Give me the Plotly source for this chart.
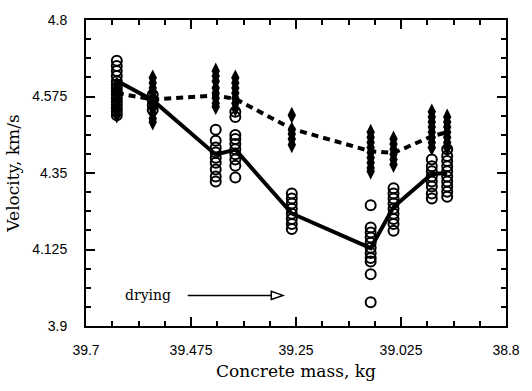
import plotly.graph_objects as go

# ---- data ----
masses = [39.634, 39.557, 39.422, 39.380, 39.259, 39.090, 39.041, 38.959, 38.926]

wet_circles = [
    [4.68, 4.665, 4.65, 4.635, 4.62, 4.61, 4.60, 4.59, 4.58, 4.57, 4.56, 4.55, 4.54, 4.53, 4.52],
    [4.58, 4.565, 4.55, 4.535],
    [4.477, 4.445, 4.425, 4.41, 4.395, 4.38, 4.36, 4.34, 4.325],
    [4.53, 4.515, 4.462, 4.45, 4.435, 4.42, 4.405, 4.39, 4.371, 4.337],
    [4.29, 4.275, 4.26, 4.245, 4.23, 4.215, 4.20, 4.185],
    [4.255, 4.19, 4.175, 4.16, 4.145, 4.13, 4.115, 4.10, 4.09, 4.052, 3.97],
    [4.305, 4.29, 4.275, 4.26, 4.245, 4.23, 4.215, 4.20, 4.18],
    [4.39, 4.37, 4.355, 4.34, 4.325, 4.31, 4.29, 4.275],
    [4.42, 4.40, 4.385, 4.37, 4.355, 4.34, 4.325, 4.31, 4.295, 4.28],
]

diamonds = [
    [4.61, 4.595, 4.58, 4.565, 4.55, 4.535, 4.52],
    [4.63, 4.615, 4.60, 4.585, 4.57, 4.555, 4.54, 4.525, 4.51, 4.50],
    [4.65, 4.635, 4.62, 4.60, 4.585, 4.57, 4.555, 4.545],
    [4.63, 4.615, 4.60, 4.585, 4.57, 4.555, 4.54],
    [4.52, 4.477, 4.465, 4.45, 4.433],
    [4.47, 4.455, 4.44, 4.425, 4.41, 4.395, 4.38, 4.365, 4.355],
    [4.45, 4.435, 4.42, 4.405, 4.39, 4.375],
    [4.53, 4.515, 4.50, 4.485, 4.47, 4.455, 4.44, 4.425],
    [4.515, 4.50, 4.485, 4.47, 4.455, 4.44, 4.425],
]

solid_mean = [4.621, 4.564, 4.404, 4.419, 4.231, 4.129, 4.250, 4.347, 4.350]
dashed_mean = [4.585, 4.566, 4.578, 4.568, 4.480, 4.414, 4.409, 4.458, 4.470]

x_ticks = [39.7, 39.475, 39.25, 39.025, 38.8]
x_tick_labels = ["39.7", "39.475", "39.25", "39.025", "38.8"]
x_minor = [39.64375, 39.5875, 39.53125, 39.41875, 39.3625, 39.30625,
           39.19375, 39.1375, 39.08125, 38.96875, 38.9125, 38.85625]
y_ticks = [3.9, 4.125, 4.35, 4.575, 4.8]
y_tick_labels = ["3.9", "4.125", "4.35", "4.575", "4.8"]
y_minor = [3.95625, 4.0125, 4.06875, 4.18125, 4.2375, 4.29375,
           4.40625, 4.4625, 4.51875, 4.63125, 4.6875, 4.74375]

# annotation geometry (drying arrow)
arrow_y = 3.990
arrow_x0, arrow_base, arrow_tip = 39.482, 39.303, 39.278
head_half = 0.012

# ---- figure ----
fig = go.Figure()

cx, cy = [], []
for m, vals in zip(masses, wet_circles):
    cx += [m] * len(vals)
    cy += vals
dx, dy = [], []
for m, vals in zip(masses, diamonds):
    dx += [m] * len(vals)
    dy += vals

fig.add_trace(go.Scatter(x=masses, y=solid_mean, mode="lines",
                         line=dict(color="black", width=4), showlegend=False))
fig.add_trace(go.Scatter(x=masses, y=dashed_mean, mode="lines",
                         line=dict(color="black", width=4, dash="7px,5px"), showlegend=False))
fig.add_trace(go.Scatter(x=cx, y=cy, mode="markers",
                         marker=dict(symbol="circle-open", size=10, color="black",
                                     line=dict(width=2, color="black")),
                         showlegend=False))
fig.add_trace(go.Scatter(x=dx, y=dy, mode="markers",
                         marker=dict(symbol="diamond-tall", size=12, color="black",
                                     line=dict(width=0)),
                         showlegend=False))

# drying arrow
fig.add_shape(type="line", x0=arrow_x0, x1=arrow_base, y0=arrow_y, y1=arrow_y,
              xref="x", yref="y", line=dict(color="black", width=1.5))
fig.add_shape(type="path",
              path=f"M {arrow_base} {arrow_y - head_half} L {arrow_tip} {arrow_y} "
                   f"L {arrow_base} {arrow_y + head_half} Z",
              xref="x", yref="y", fillcolor="white", line=dict(color="black", width=1.5))
fig.add_annotation(x=39.567, y=arrow_y, xref="x", yref="y", text="drying",
                   showarrow=False, font=dict(family="DejaVu Serif", size=14, color="black"))

axis_common = dict(
    showline=True, linecolor="black", linewidth=2, mirror="ticks",
    ticks="inside", ticklen=9, tickwidth=2, tickcolor="black",
    showgrid=False, zeroline=False,
    tickfont=dict(family="Liberation Sans", size=14, color="black"),
)

fig.update_xaxes(
    range=[39.7, 38.8], tickmode="array", tickvals=x_ticks, ticktext=x_tick_labels,
    minor=dict(tickmode="array", tickvals=x_minor, ticks="inside", ticklen=5,
               tickwidth=1.5, tickcolor="black", showgrid=False),
    ticklabelstandoff=10,
    title=dict(text="Concrete mass, kg",
               font=dict(family="DejaVu Serif", size=17, color="black"), standoff=8),
    **axis_common,
)
fig.update_yaxes(
    range=[3.9, 4.8], tickmode="array", tickvals=y_ticks, ticktext=y_tick_labels,
    minor=dict(tickmode="array", tickvals=y_minor, ticks="inside", ticklen=5,
               tickwidth=1.5, tickcolor="black", showgrid=False),
    ticklabelstandoff=14,
    title=dict(text="Velocity, km/s",
               font=dict(family="DejaVu Serif", size=17, color="black"), standoff=8),
    **axis_common,
)

fig.update_layout(
    width=532, height=391,
    margin=dict(l=86, r=17, t=15, b=65),
    plot_bgcolor="white", paper_bgcolor="white",
    showlegend=False,
)

fig.write_html("out.html", config={"displayModeBar": False},
               post_script="document.body.style.margin='0px';")
